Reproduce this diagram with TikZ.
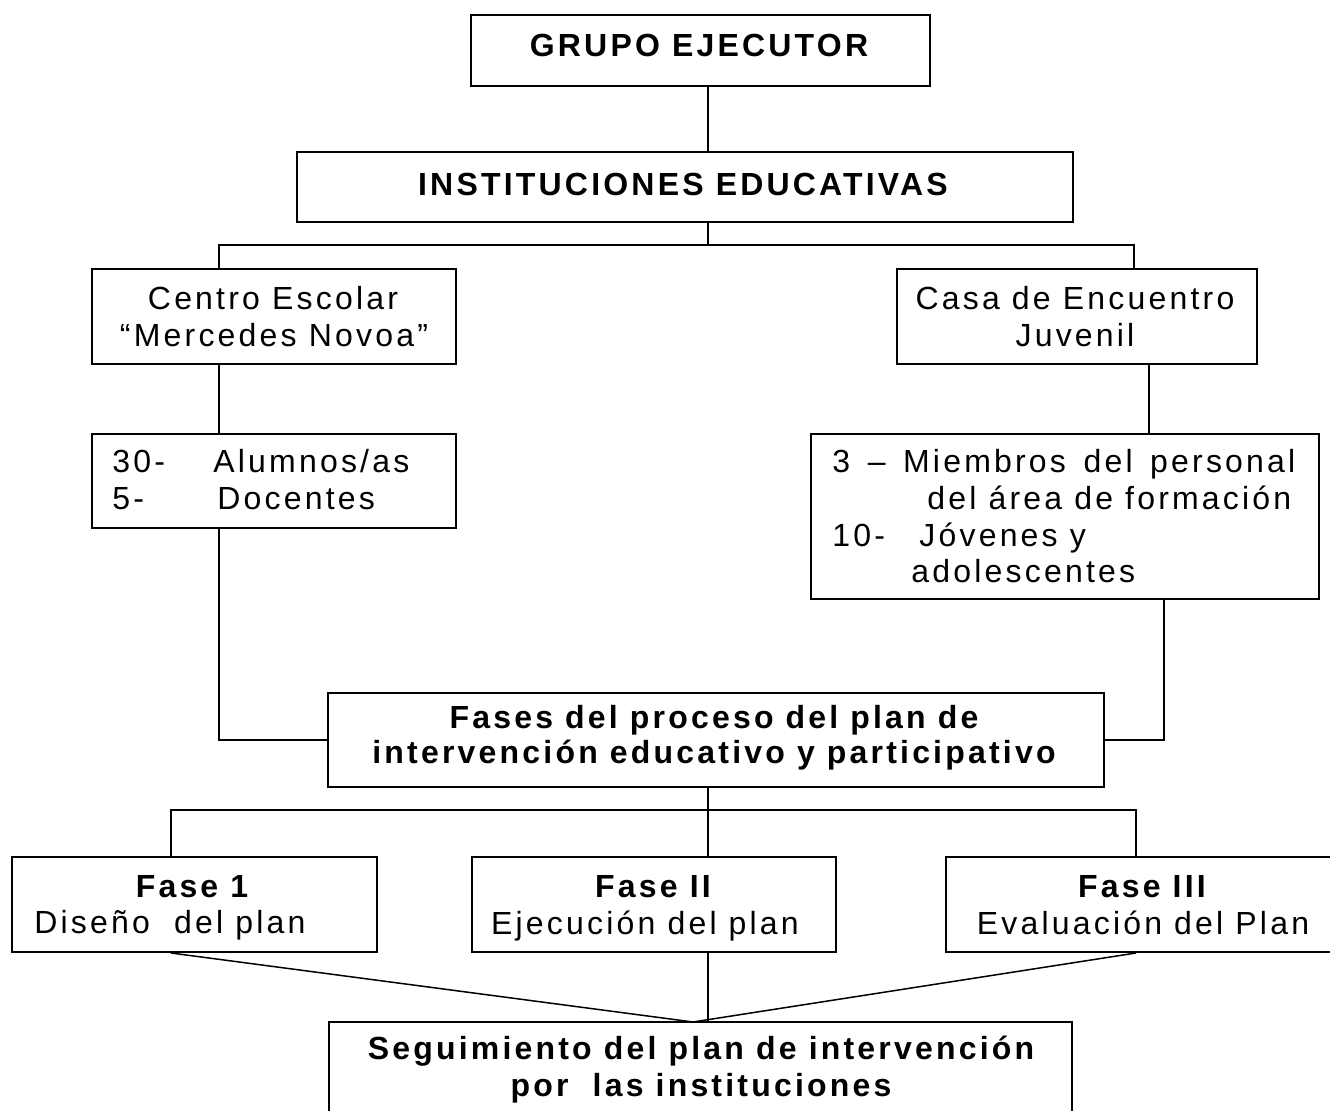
\documentclass[tikz,border=0pt]{standalone}
\usepackage{fontspec}
\setmainfont{Liberation Sans}[LetterSpace=10]
\usetikzlibrary{fit}
\begin{document}
\begin{tikzpicture}[x=0.5pt,y=-0.5pt,
  box/.style={draw, line width=1pt, inner sep=0pt},
  conn/.style={line width=0.75pt},
  txt/.style={inner sep=0pt, anchor=base, font=\fontsize{16pt}{18.5pt}\selectfont},
  txtl/.style={txt, anchor=base west},
  btxt/.style={txt, font=\fontsize{16pt}{18.5pt}\selectfont\bfseries}]
\clip (0,0) rectangle (1330,1111);
\fill[white] (0,0) rectangle (1330,1111);
% boxes
\node[box, fit={(471,15) (930,86)}] (grupo) {};
\node[box, fit={(297,152) (1073,222)}] (inst) {};
\node[box, fit={(92,269) (456,364)}] (centro) {};
\node[box, fit={(897,269) (1257,364)}] (casa) {};
\node[box, fit={(92,434) (456,528)}] (alum) {};
\node[box, fit={(811,434) (1319,599)}] (miem) {};
\node[box, fit={(328,693) (1104,787)}] (fases) {};
\node[box, fit={(12,857) (377,952)}] (f1) {};
\node[box, fit={(472,857) (836,952)}] (f2) {};
\node[box, fit={(946,857) (1340,952)}] (f3) {};
\node[box, fit={(329,1022) (1072,1125)}] (seg) {};
% texts
\node[btxt] (tgrupo) at (699,57) {GRUPO EJECUTOR};
\node[btxt] (tinst) at (683,196) {INSTITUCIONES EDUCATIVAS};
\node[txt] (tcen1) at (273,310) {Centro Escolar};
\node[txt] (tcen2) at (274,347) {“Mercedes Novoa”};
\node[txt] (tcas1) at (1075,310) {Casa de Encuentro};
\node[txt] (tcas2) at (1075,347) {Juvenil};
\node[txtl] (ta1) at (112,473) {30-};
\node[txtl] (ta2) at (213,473) {Alumnos/as};
\node[txtl] (ta3) at (112,510) {5-};
\node[txtl] (ta4) at (217,510) {Docentes};
\node[txtl] (tm1) at (832,473) {\makebox[231.5pt][s]{3 – Miembros del personal}};
\node[txtl] (tm2) at (927,510) {del área de formación};
\node[txtl] (tm3) at (832,547) {10-};
\node[txtl] (tm4) at (919,547) {Jóvenes y};
\node[txtl] (tm5) at (911,583) {adolescentes};
\node[btxt] (tf1) at (714,729) {Fases del proceso del plan de};
\node[btxt] (tf2) at (714,764) {intervención educativo y participativo};
\node[btxt] (tp1a) at (192,898) {Fase 1};
\node[txtl] (tp1b) at (34,934) {Diseño\ \ del plan};
\node[btxt] (tp2a) at (653,898) {Fase II};
\node[txt] (tp2b) at (645,935) {Ejecución del plan};
\node[btxt] (tp3a) at (1142,898) {Fase III};
\node[txt] (tp3b) at (1143,935) {Evaluación del Plan};
\node[btxt] (ts1) at (701,1060) {Seguimiento del plan de intervención};
\node[btxt] (ts2) at (701,1097) {por\ \ las instituciones};
% connector coordinates
\coordinate (spine) at (708,0);
\coordinate (bl) at (219,245);
\coordinate (br) at (1134,245);
\coordinate (cr) at (1149,0);
\coordinate (dr) at (1164,0);
\coordinate (el) at (171,810);
\coordinate (er) at (1136,810);
\coordinate (join) at (693,1022);
% connectors
\draw[conn] (grupo.south -| spine) -- (inst.north -| spine);
\draw[conn] (inst.south -| spine) -- (spine |- bl);
\draw[conn] (centro.north -| bl) -- (bl) -- (br) -- (casa.north -| br);
\draw[conn] (centro.south -| bl) -- (alum.north -| bl);
\draw[conn] (casa.south -| cr) -- (miem.north -| cr);
\draw[conn] (alum.south -| bl) |- (fases.west);
\draw[conn] (miem.south -| dr) |- (fases.east);
\draw[conn] (fases.south -| spine) -- (f2.north -| spine);
\draw[conn] (f1.north -| el) -- (el) -- (er) -- (f3.north -| er);
\draw[conn] (f1.south -| el) -- (join);
\draw[conn] (f3.south -| er) -- (join);
\draw[conn] (f2.south -| spine) -- (seg.north -| spine);
\end{tikzpicture}
\end{document}
